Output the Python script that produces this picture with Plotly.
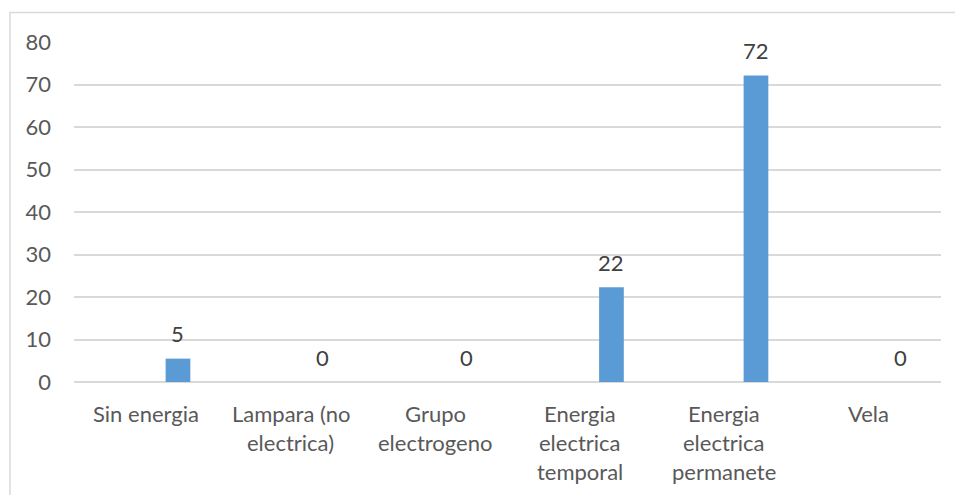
import plotly.graph_objects as go

categories = ["Sin energia", "Lampara (no electrica)", "Grupo electrogeno",
              "Energia electrica temporal", "Energia electrica permanete", "Vela"]
category_lines = [["Sin energia"], ["Lampara (no", "electrica)"], ["Grupo", "electrogeno"],
                  ["Energia", "electrica", "temporal"], ["Energia", "electrica", "permanete"], ["Vela"]]
values = [5.5, 0, 0, 22.3, 72.1, 0]
value_labels = ["5", "0", "0", "22", "72", "0"]
y_ticks = [0, 10, 20, 30, 40, 50, 60, 70, 80]

W, H = 955, 495
ML, MR, MT, MB = 74, 14, 42, 113
plot_w = W - ML - MR
plot_h = H - MT - MB
cat_px = plot_w / len(categories)

BAR_OFFSET = 0.134
BAR_WIDTH = 0.171
FONT = "Lato"
FS = 22

fig = go.Figure()
fig.add_trace(go.Bar(
    x=categories, y=values,
    marker=dict(color="#5b9bd5", line=dict(width=0)),
    width=BAR_WIDTH, offset=BAR_OFFSET,
    hoverinfo="x+y",
))

annotations = []
shift = (BAR_OFFSET + BAR_WIDTH / 2) * cat_px
for c, v, lab in zip(categories, values, value_labels):
    annotations.append(dict(x=c, y=v, xref="x", yref="y", text=lab, showarrow=False,
                            xshift=shift, yshift=25, yanchor="middle",
                            font=dict(family=FONT, size=FS, color="#404040")))
for c, lines in zip(categories, category_lines):
    for i, ln in enumerate(lines):
        annotations.append(dict(x=c, y=0, xref="x", yref="y", text=ln, showarrow=False,
                                yshift=-(31 + 29.3 * i), yanchor="middle",
                                font=dict(family=FONT, size=FS, color="#595959")))

# outer chart frame (extends beyond the visible window at right/bottom)
x0 = (10 - ML) / plot_w
y1 = (H - MB - 12.5) / plot_h
shapes = [dict(type="rect", xref="paper", yref="paper", x0=x0, x1=1.2, y0=-0.6, y1=y1,
               line=dict(color="#d9d9d9", width=1.5), fillcolor="rgba(0,0,0,0)", layer="below")]

fig.update_layout(
    width=W, height=H,
    margin=dict(l=ML, r=MR, t=MT, b=MB),
    paper_bgcolor="white", plot_bgcolor="white",
    showlegend=False,
    annotations=annotations,
    shapes=shapes,
    font=dict(family=FONT, size=FS, color="#595959"),
    xaxis=dict(showticklabels=False, showgrid=False, zeroline=False,
               showline=False, ticks=""),
    yaxis=dict(range=[0, 80], tickvals=y_ticks, showgrid=True, gridcolor="#d9d9d9",
               gridwidth=1.5, zeroline=True, zerolinecolor="#d9d9d9", zerolinewidth=1.5,
               showline=False, ticks="", ticklabelstandoff=22,
               tickfont=dict(family=FONT, size=FS, color="#595959")),
)

fig.write_html("out.html")
